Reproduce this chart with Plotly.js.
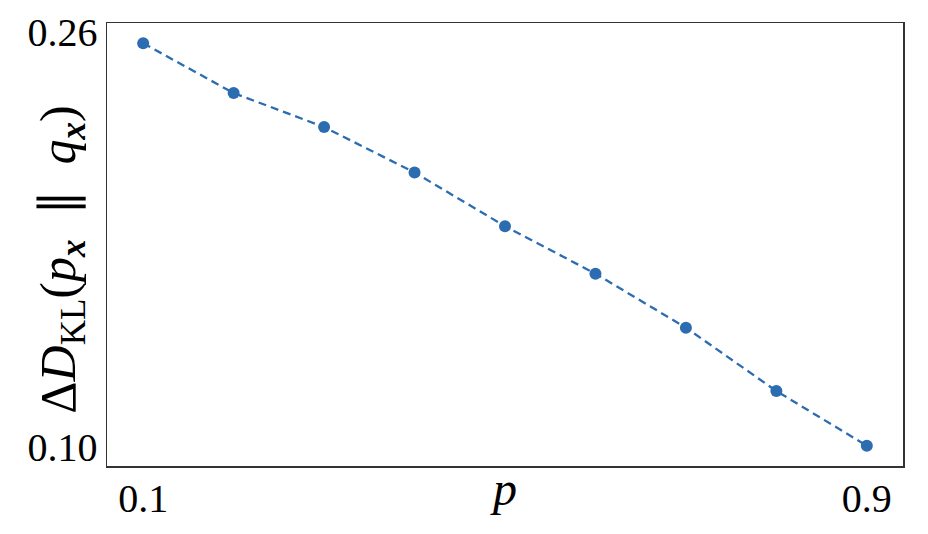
<!DOCTYPE html>
<html>
<head>
<meta charset="utf-8">
<script src="https://cdn.plot.ly/plotly-3.0.1.min.js"></script>
<style>html,body{margin:0;padding:0;background:#fff;}#chart{width:928px;height:534px;}</style>
</head>
<body>
<div id="chart"></div>
<script>
const pValues = [0.1, 0.2, 0.3, 0.4, 0.5, 0.6, 0.7, 0.8, 0.9];
const deltaKL = [0.2555, 0.2363, 0.2232, 0.2057, 0.1850, 0.1667, 0.1459, 0.1215, 0.1004];
const xTickVals = [0.1, 0.9];
const xTickText = ['0.1', '0.9'];
const yTickVals = [0.10, 0.26];
const yTickText = ['0.10', '0.26'];
const xTitle = '<i>p</i>';
const yTitle = 'Δ<i>D</i><sub>KL</sub>(<i>p</i><sub><b><i>x</i></b></sub>&nbsp;&nbsp;∥&nbsp;&nbsp;<i>q</i><sub><b><i>x</i></b></sub>)';

const color = '#2c6cb0';
const fam = 'Liberation Serif';
const trace = {
  x: pValues, y: deltaKL, type: 'scatter', mode: 'lines+markers',
  line: {color: color, width: 2.3, dash: '8px,5px'},
  marker: {color: color, size: 12, symbol: 'circle'},
  hoverinfo: 'skip'
};
const layout = {
  width: 928, height: 534,
  margin: {l: 107, r: 25, t: 23, b: 67.5, pad: 0},
  paper_bgcolor: '#fff', plot_bgcolor: '#fff',
  showlegend: false,
  font: {family: fam, color: '#000'},
  xaxis: {
    range: [0.06, 0.94], tickvals: xTickVals, ticktext: xTickText,
    ticks: '', showgrid: false, zeroline: false,
    showline: true, linecolor: '#333', linewidth: 1.5, mirror: true,
    ticklabelstandoff: -4,
    tickfont: {family: fam, size: 40, color: '#000'}
  },
  yaxis: {
    range: [0.0926, 0.2633], tickvals: yTickVals, ticktext: yTickText,
    ticks: '', showgrid: false, zeroline: false,
    showline: true, linecolor: '#333', linewidth: 1.5, mirror: true,
    tickfont: {family: fam, size: 40, color: '#000'}
  },
  annotations: [
    {text: xTitle, xref: 'paper', yref: 'paper', x: 0.4975, y: -0.05, xanchor: 'center', yanchor: 'middle',
     showarrow: false, font: {family: fam, size: 48, color: '#000'}},
    {text: yTitle, xref: 'paper', yref: 'paper', x: -0.057, y: 0.465, xanchor: 'center', yanchor: 'middle',
     textangle: -90, showarrow: false, font: {family: fam, size: 50, color: '#000'}}
  ]
};
Plotly.newPlot('chart', [trace], layout, {displayModeBar: false, staticPlot: true});
</script>
</body>
</html>
